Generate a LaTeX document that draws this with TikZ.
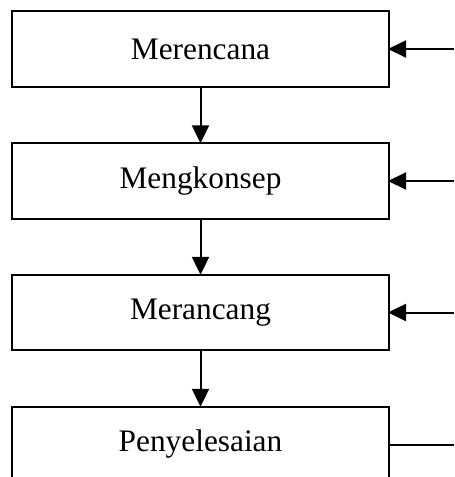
\documentclass[tikz,border=0pt]{standalone}
\usepackage{fontspec}
\setmainfont{Liberation Serif}
\usetikzlibrary{arrows.meta}
\begin{document}
\begin{tikzpicture}[x=0.75pt,y=-0.75pt,
  stagebox/.style={draw=black,line width=1.5pt,fill=white,minimum width=282.75pt,minimum height=56.5pt,inner sep=0pt,outer sep=0pt,font=\fontsize{23.5}{28}\selectfont},
  flow/.style={line width=1.5pt,-{Triangle[length=13.5pt,width=12.75pt]}},
  feed/.style={flow,shorten >=-0.75pt},
  plain/.style={line width=1.5pt}]
\useasboundingbox (0,0) rectangle (454,477);
\node[stagebox] (b1) at (200.5,49) {Merencana};
\node[stagebox] (b2) at (200.5,181) {Mengkonsep};
\node[stagebox] (b3) at (200.5,312.5) {Merancang};
\node[stagebox] (b4) at (200.5,444.5) {Penyelesaian};
\coordinate (r1) at (454,49);
\coordinate (r2) at (454,181);
\coordinate (r3) at (454,312.5);
\coordinate (r4) at (454,444.5);
\draw[flow] (b1) -- (b2);
\draw[flow] (b2) -- (b3);
\draw[flow] (b3) -- (b4);
\draw[feed] (r1) -- (b1.east);
\draw[feed] (r2) -- (b2.east);
\draw[feed] (r3) -- (b3.east);
\draw[plain] (b4.east) -- (r4);
\end{tikzpicture}
\end{document}
